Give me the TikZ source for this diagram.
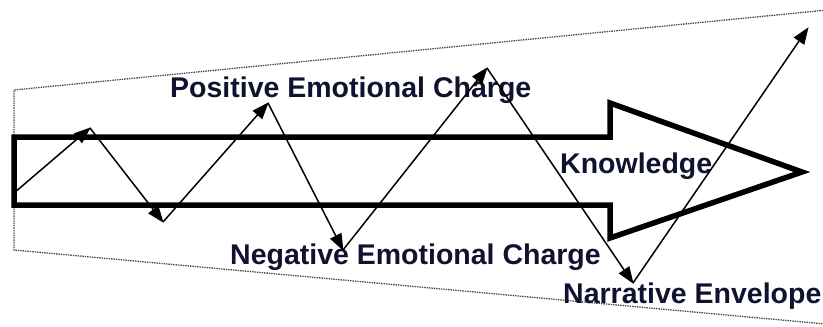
\documentclass[tikz,border=0pt]{standalone}
\usepackage{fontspec}
\setmainfont{Liberation Sans}
\usetikzlibrary{arrows.meta}
\definecolor{labelink}{RGB}{16,18,48}
\definecolor{envgray}{RGB}{70,70,70}
\tikzset{
  envelope/.style={draw=envgray, line width=1.3pt, dash pattern=on 1.4pt off 1pt},
  bigarrow/.style={draw=black, line width=5.5pt, line join=miter, miter limit=10},
  swing/.style={draw=black, line width=1.5pt, -{Triangle[length=17pt,width=12.5pt]}, shorten >=-1pt},
  lbl/.style={anchor=base west, inner sep=0pt, text=labelink,
    font=\fontsize{28.5}{34}\selectfont\bfseries}
}
\begin{document}
\begin{tikzpicture}[x=1pt,y=-1pt]
  \useasboundingbox (0,0) rectangle (823,327);

  % narrative envelope (dotted trapezoid, open to the right)
  \draw[envelope] (823,10.4) -- (14,90) -- (14,250) -- (823,323.8);

  % knowledge arrow
  \draw[bigarrow] (14,137) -- (610,137) -- (610,103) -- (802,172)
     -- (610,238) -- (610,205) -- (14,205) -- cycle;

  % labels
  \node[lbl] (pos) at (170,97) {Positive Emotional Charge};
  \node[lbl] (know) at (560,173) {Knowledge};
  \node[lbl] (neg) at (230,264) {Negative Emotional Charge};
  \node[lbl] (narr) at (563,303) {Narrative Envelope};

  % emotional swings
  \coordinate (z0) at (14,193);
  \coordinate (z1) at (90,128);
  \coordinate (z2) at (163,222);
  \coordinate (z3) at (268,103);
  \coordinate (z4) at (343,250);
  \coordinate (z5) at (487,68);
  \coordinate (z6) at (633,283);
  \coordinate (z7) at (808,28);
  \draw[swing] (z0) -- (z1);
  \draw[swing] (z1) -- (z2);
  \draw[swing] (z2) -- (z3);
  \draw[swing] (z3) -- (z4);
  \draw[swing] (z4) -- (z5);
  \draw[swing] (z5) -- (z6);
  \draw[swing] (z6) -- (z7);
\end{tikzpicture}
\end{document}
